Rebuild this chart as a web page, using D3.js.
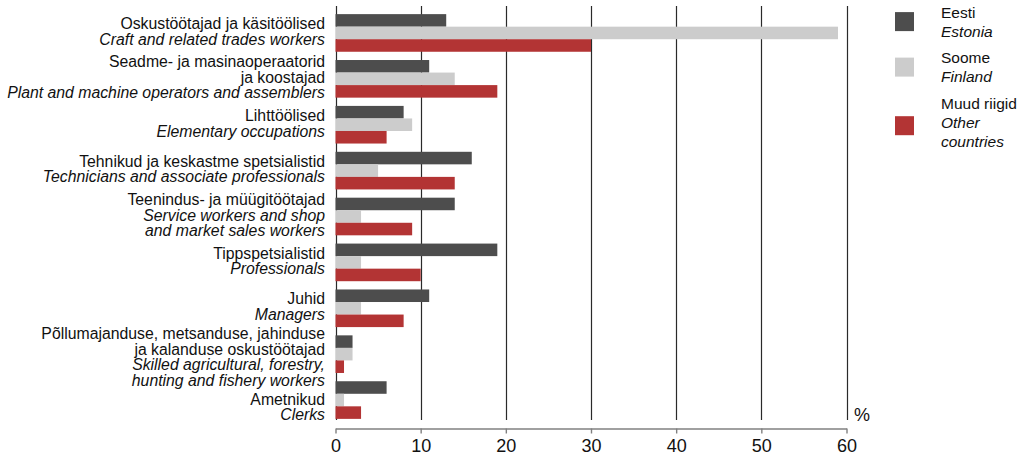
<!DOCTYPE html>
<html>
<head>
<meta charset="utf-8">
<script src="https://cdn.jsdelivr.net/npm/d3@7"></script>
<style>
  html, body { margin: 0; padding: 0; background: #fff; }
  svg { display: block; font-family: "Liberation Sans", Arial, Helvetica, sans-serif; }
</style>
</head>
<body>
<svg id="chart" width="1022" height="459"></svg>
<script>
// ---- data ----
const categoriesEt = [
  ["Oskustöötajad ja käsitöölised"],
  ["Seadme- ja masinaoperaatorid", "ja koostajad"],
  ["Lihttöölised"],
  ["Tehnikud ja keskastme spetsialistid"],
  ["Teenindus- ja müügitöötajad"],
  ["Tippspetsialistid"],
  ["Juhid"],
  ["Põllumajanduse, metsanduse, jahinduse", "ja kalanduse oskustöötajad"],
  ["Ametnikud"]
];
const categoriesEn = [
  ["Craft and related trades workers"],
  ["Plant and machine operators and assemblers"],
  ["Elementary occupations"],
  ["Technicians and associate professionals"],
  ["Service workers and shop", "and market sales workers"],
  ["Professionals"],
  ["Managers"],
  ["Skilled agricultural, forestry,", "hunting and fishery workers"],
  ["Clerks"]
];
const seriesKeys = ["Estonia", "Finland", "Other"];
const seriesNamesEt = ["Eesti", "Soome", "Muud riigid"];
const seriesNamesEn = [["Estonia"], ["Finland"], ["Other", "countries"]];
const estonia = [13, 11, 8, 16, 14, 19, 11, 2, 6];
const finland = [59, 14, 9, 5, 3, 3, 3, 2, 1];
const other   = [30, 19, 6, 14, 9, 10, 8, 1, 3];
const xTicks = [0, 10, 20, 30, 40, 50, 60];
const unitLabel = "%";
const colors = ["#4d4d4d", "#cccccc", "#b33434"];

// ---- layout ----
const svg = d3.select("#chart");
const values = [estonia, finland, other];
const idx = d3.range(categoriesEt.length);

const x = d3.scaleLinear().domain([0, 60]).range([335.5, 846.5]);
const y = d3.scaleBand().domain(idx).range([10, 423]).paddingInner(0.18).paddingOuter(0.09);
const ys = d3.scaleBand().domain(seriesKeys).range([0, y.bandwidth()]);

const gridTop = 6, gridBottom = 420, axisY = 428.5;

// gridlines
svg.append("g").selectAll("line").data(xTicks).join("line")
  .attr("x1", d => Math.round(x(d)) + 0.5).attr("x2", d => Math.round(x(d)) + 0.5)
  .attr("y1", gridTop).attr("y2", gridBottom)
  .attr("stroke", "#2a2a2a").attr("stroke-width", 1.2);

// bars
const gBars = svg.append("g");
seriesKeys.forEach((key, si) => {
  gBars.append("g").selectAll("rect").data(idx).join("rect")
    .attr("x", x(0))
    .attr("y", i => y(i) + ys(key))
    .attr("width", i => x(values[si][i]) - x(0))
    .attr("height", ys.bandwidth())
    .attr("fill", colors[si]);
});

// bottom axis
const axis = d3.axisBottom(x).tickValues(xTicks).tickSize(5).tickSizeOuter(0).tickFormat(d3.format("d"));
const gAxis = svg.append("g").attr("transform", `translate(0,${axisY})`).call(axis);
gAxis.select(".domain").attr("stroke", "#808080").attr("stroke-width", 1.6);
gAxis.selectAll(".tick line").attr("stroke", "#808080").attr("stroke-width", 1.4);
gAxis.selectAll(".tick text").attr("font-size", 18).attr("fill", "#111")
  .attr("font-family", "'Liberation Sans', Arial, sans-serif").attr("dy", "0.95em").attr("y", 6);

// unit label
svg.append("text").attr("x", 854).attr("y", 421).attr("font-size", 18).attr("fill", "#111").text(unitLabel);

// category labels (centered on group, pushed down to avoid overlap)
const lh = 15.6, labelX = 325, fs = 15.8, minGap = 19;
let prevLast = -Infinity;
const gLab = svg.append("g").attr("font-size", fs).attr("fill", "#111").attr("text-anchor", "end");
idx.forEach(i => {
  const lines = categoriesEt[i].map(t => ({t, it: false})).concat(categoriesEn[i].map(t => ({t, it: true})));
  const n = lines.length;
  const c = y(i) + y.bandwidth() / 2;
  let first = c + 4 - (n - 1) / 2 * lh;
  if (first < prevLast + minGap) first = prevLast + minGap;
  lines.forEach((ln, k) => {
    gLab.append("text").attr("x", labelX).attr("y", first + k * lh)
      .attr("font-style", ln.it ? "italic" : "normal").text(ln.t);
  });
  prevLast = first + (n - 1) * lh;
});

// legend
const legX = 941, sqX = 895, sqS = 19, llh = 19.2, itemGap = 26.3, legFs = 15.5;
let base = 17.5;
const gLeg = svg.append("g").attr("font-size", legFs).attr("fill", "#111");
seriesKeys.forEach((key, si) => {
  const lines = [{t: seriesNamesEt[si], it: false}].concat(seriesNamesEn[si].map(t => ({t, it: true})));
  const n = lines.length;
  lines.forEach((ln, k) => {
    gLeg.append("text").attr("x", legX).attr("y", base + k * llh)
      .attr("font-style", ln.it ? "italic" : "normal").text(ln.t);
  });
  const mean = base + (n - 1) / 2 * llh;
  const cy = n === 2 ? mean - 5.5 : mean - 2;
  gLeg.append("rect").attr("x", sqX).attr("y", cy - sqS / 2).attr("width", sqS).attr("height", sqS).attr("fill", colors[si]);
  base = base + (n - 1) * llh + itemGap;
});
</script>
</body>
</html>
